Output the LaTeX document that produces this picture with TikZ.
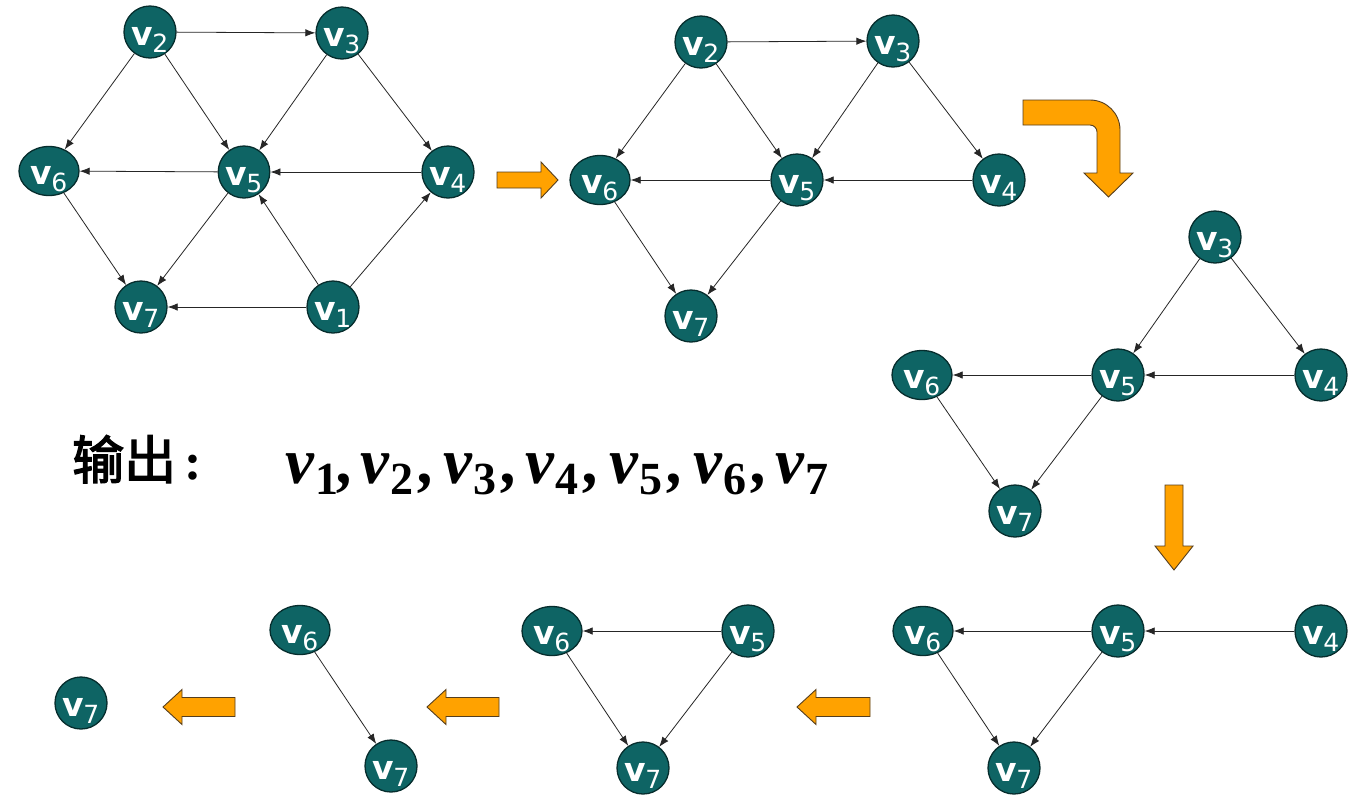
\documentclass[tikz,border=0pt]{standalone}
\usepackage{fontspec}
\setmainfont{Liberation Serif}
\newfontfamily\serifface{Liberation Serif}
\newfontfamily\cjk{Noto Sans CJK SC}[AutoFakeBold=2.5]
\newfontfamily\nodefont{DejaVu Sans}
\usetikzlibrary{shapes.geometric,arrows.meta}
\definecolor{nodefill}{RGB}{14,100,100}
\definecolor{nodeline}{RGB}{6,45,45}
\definecolor{arrowfill}{RGB}{255,162,0}
\definecolor{arrowline}{RGB}{85,62,30}
\newcommand\vl[1]{{\bfseries v}\kern-1pt\raisebox{-7pt}{\fontsize{25}{25}\selectfont #1}}
\newcommand\sv[3]{\makebox[#1][l]{\serifface\fontsize{65}{65}\selectfont\bfseries\itshape v\kern1pt\raisebox{-11pt}{\upshape\fontsize{46}{46}\selectfont #2}#3}}
\tikzset{
  vtx/.style={ellipse, draw=nodeline, line width=1.3pt, fill=nodefill, text=white,
    minimum width=52pt, minimum height=52pt, inner sep=0pt, text height=27pt, text depth=0pt,
    font=\nodefont\fontsize{33}{33}\selectfont},
  wide/.style={minimum width=60pt, minimum height=49pt},
  edge/.style={line width=0.8pt, draw=black!85, -{Latex[length=10pt,width=7.5pt]}},
  bigarrow/.style={fill=arrowfill, draw=arrowline, line width=0.9pt, line join=miter}
}
\begin{document}
\begin{tikzpicture}[x=1pt,y=-1pt]
\useasboundingbox (0,0) rectangle (1372,801);
\fill[white] (0,0) rectangle (1372,801);

% ---------- graph 1 ----------
\node[vtx] (a2) at (150,32) {\vl{2}};
\node[vtx] (a3) at (342,33) {\vl{3}};
\node[vtx,wide] (a6) at (49,171) {\vl{6}};
\node[vtx,minimum width=48pt] (a5) at (244,172) {\vl{5}};
\node[vtx] (a4) at (448,172) {\vl{4}};
\node[vtx] (a7) at (141,307) {\vl{7}};
\node[vtx] (a1) at (333,307) {\vl{1}};
\draw[edge] (a2) -- (a3);
\draw[edge] (a2) -- (a6);
\draw[edge] (a2) -- (a5);
\draw[edge] (a3) -- (a5);
\draw[edge] (a3) -- (a4);
\draw[edge] (a5) -- (a6);
\draw[edge] (a4) -- (a5);
\draw[edge] (a6) -- (a7);
\draw[edge] (a5) -- (a7);
\draw[edge] (a1) -- (a7);
\draw[edge] (a1) -- (a5);
\draw[edge] (a1) -- (a4);

% arrow 1 (right)
\draw[bigarrow] (497,172) -- (541,172) -- (541,162) -- (558,180) -- (541,198) -- (541,188) -- (497,188) -- cycle;

% ---------- graph 2 ----------
\node[vtx] (b2) at (701,42) {\vl{2}};
\node[vtx] (b3) at (893,41) {\vl{3}};
\node[vtx,wide] (b6) at (600,180) {\vl{6}};
\node[vtx] (b5) at (797,180) {\vl{5}};
\node[vtx] (b4) at (999,180) {\vl{4}};
\node[vtx] (b7) at (691,316) {\vl{7}};
\draw[edge] (b2) -- (b3);
\draw[edge] (b2) -- (b6);
\draw[edge] (b2) -- (b5);
\draw[edge] (b3) -- (b5);
\draw[edge] (b3) -- (b4);
\draw[edge] (b5) -- (b6);
\draw[edge] (b4) -- (b5);
\draw[edge] (b6) -- (b7);
\draw[edge] (b5) -- (b7);

% bent arrow
\draw[bigarrow] (1023,100) -- (1090,100) to[out=0,in=90] (1120,130) -- (1120,173) -- (1133,173)
  -- (1108.5,197) -- (1084,173) -- (1097,173) -- (1097,132) to[out=90,in=0] (1090,125) -- (1023,125) -- cycle;

% ---------- graph 3 ----------
\node[vtx] (c3) at (1215,237) {\vl{3}};
\node[vtx,wide] (c6) at (922,375) {\vl{6}};
\node[vtx] (c5) at (1118,375) {\vl{5}};
\node[vtx] (c4) at (1321,375) {\vl{4}};
\node[vtx] (c7) at (1015,511) {\vl{7}};
\draw[edge] (c3) -- (c5);
\draw[edge] (c3) -- (c4);
\draw[edge] (c5) -- (c6);
\draw[edge] (c4) -- (c5);
\draw[edge] (c6) -- (c7);
\draw[edge] (c5) -- (c7);

% down arrow
\draw[bigarrow] (1165,485) -- (1183,485) -- (1183,546) -- (1193,546) -- (1174,570) -- (1155,546) -- (1165,546) -- cycle;

% ---------- graph 4 ----------
\node[vtx,wide] (d6) at (923,631) {\vl{6}};
\node[vtx] (d5) at (1118,631) {\vl{5}};
\node[vtx] (d4) at (1321,631) {\vl{4}};
\node[vtx] (d7) at (1014,768) {\vl{7}};
\draw[edge] (d5) -- (d6);
\draw[edge] (d4) -- (d5);
\draw[edge] (d6) -- (d7);
\draw[edge] (d5) -- (d7);

% left arrows
\draw[bigarrow] (870,697.5) -- (816,697.5) -- (816,689.5) -- (797,707) -- (816,724.5) -- (816,716.5) -- (870,716.5) -- cycle;
\draw[bigarrow] (499,697.5) -- (446,697.5) -- (446,689.5) -- (427,707) -- (446,724.5) -- (446,716.5) -- (499,716.5) -- cycle;
\draw[bigarrow] (235,697.5) -- (182,697.5) -- (182,689.5) -- (163,707) -- (182,724.5) -- (182,716.5) -- (235,716.5) -- cycle;

% ---------- graph 5 ----------
\node[vtx,wide] (e6) at (552,631) {\vl{6}};
\node[vtx] (e5) at (748,631) {\vl{5}};
\node[vtx] (e7) at (643,768) {\vl{7}};
\draw[edge] (e5) -- (e6);
\draw[edge] (e6) -- (e7);
\draw[edge] (e5) -- (e7);

% ---------- graph 6 ----------
\node[vtx,wide] (f6) at (300,630) {\vl{6}};
\node[vtx] (f7) at (391,766) {\vl{7}};
\draw[edge] (f6) -- (f7);

% ---------- graph 7 ----------
\node[vtx] (g7) at (81,703) {\vl{7}};

% ---------- output text ----------
\node[anchor=base west, inner sep=0pt] (outlbl) at (72,479)
  {\fontsize{52}{52}\selectfont{\cjk\bfseries 输出}\hspace{8pt}{\serifface\bfseries :}};
\node[anchor=base west, inner sep=0pt] (outseq) at (285,483)
  {\sv{75pt}{1}{,}\sv{83pt}{2}{\hspace{6pt},}\sv{82pt}{3}{\hspace{6pt},}\sv{84pt}{4}{\hspace{6pt},}\sv{84pt}{5}{\hspace{6pt},}\sv{82pt}{6}{\hspace{6pt},}\sv{50pt}{7}{}};
\end{tikzpicture}
\end{document}
